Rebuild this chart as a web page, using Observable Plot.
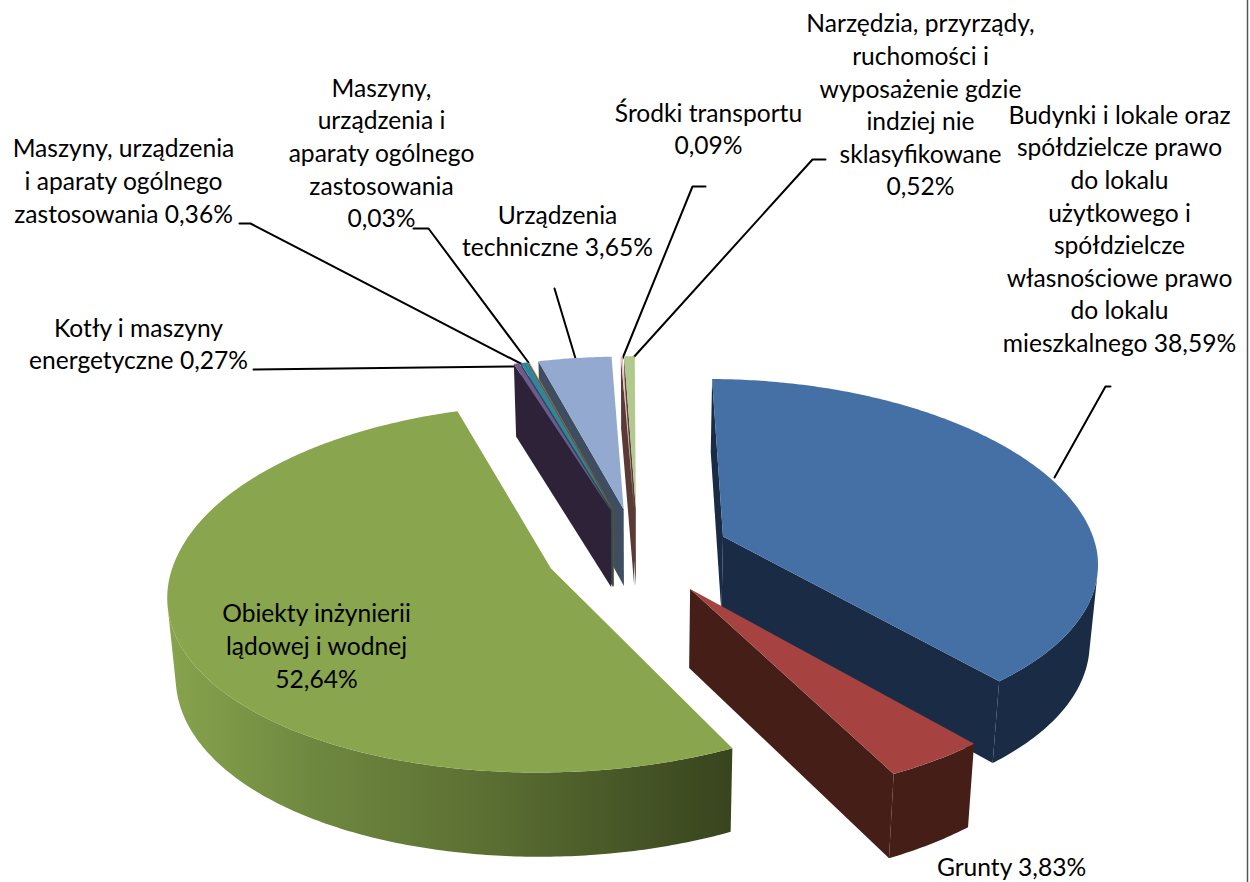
<!DOCTYPE html>
<html><head><meta charset="utf-8">
<script src="https://cdn.jsdelivr.net/npm/d3@7"></script>
<script src="https://cdn.jsdelivr.net/npm/@observablehq/plot@0.6"></script>
<style>html,body{margin:0;padding:0;background:#fff}svg{display:block}</style>
</head><body><div id="chart"></div>
<script>
// ---- data (in clockwise slice order) ----
const categories = ["Budynki","Grunty","Obiekty","Kotły","Maszyny A","Maszyny B","Urządzenia","Środki","Narzędzia"];
const values = [38.59,3.83,52.64,0.27,0.36,0.03,3.65,0.09,0.52];
const labelTexts = [
 "Budynki i lokale oraz\nspółdzielcze prawo\ndo lokalu\nużytkowego i\nspółdzielcze\nwłasnościowe prawo\ndo lokalu\nmieszkalnego ",
 "Grunty ",
 "Obiekty inżynierii\nlądowej i wodnej\n",
 "Kotły i maszyny\nenergetyczne ",
 "Maszyny, urządzenia\ni aparaty ogólnego\nzastosowania ",
 "Maszyny,\nurządzenia i\naparaty ogólnego\nzastosowania\n",
 "Urządzenia\ntechniczne ",
 "Środki transportu\n",
 "Narzędzia, przyrządy,\nruchomości i\nwyposażenie gdzie\nindziej nie\nsklasyfikowane\n"
];
// ---- styles and layout, separate from the data ----
const topColors  = ["#4470a5","#a64340","#89a54e","#71588f","#31849b","#d18a44","#94a9d0","#e6c3c1","#b1c98c"];
const wallColors = ["#1a2c45","#461e18","url(#greenWall)","#2e2239","#1f4f5c","#7a4a20","#3f4d60","#5b3a36","#55403a"];
const labelCentres = [[1119,227],[1011,865],[316,644],[138,342],[123,179],[381,151],[557,229],[708,127],[920,103]];
const leaders = [
 [[1110,386],[1105,386],[1054,477]],
 [[253,369],[513,366]],
 [[239,223],[250,223],[522,364]],
 [[413,228],[428,228],[528,362]],
 [[554,288],[575,358]],
 [[705,186],[692,186],[622,358]],
 [[825,159],[812,159],[632,358]]
];
const greenStops = [[0,"#87a34d"],[0.25,"#6f8840"],[0.55,"#5c7033"],[0.82,"#465526"],[1,"#38441e"]];
// perspective view of the exploded disc
const view = {cx:637, cy:551, R:374, A:178, p:0.11, px:0.13, skew:4, h:78, q:0.6, shrink:0.982, explode:0.247, rotate:0.5};

const rad = d => d*Math.PI/180;
function project(X, Y, low){
  const s = 1/(1+view.p*Y), sx = 1/(1+view.px*Y);
  let x = view.R*X*sx - view.skew*Math.max(Y,0), y = -view.A*Y*s;
  if (low){ x *= view.shrink; y += view.h*Math.pow(s,view.q); }
  return [view.cx+x, view.cy+y];
}
const total = d3.sum(values);
let cum = view.rotate;
const slices = values.map((v,i)=>{
  const a0 = cum, a1 = cum + v/total*360; cum = a1;
  const m = rad((a0+a1)/2);
  const ox = view.explode*Math.sin(m), oy = view.explode*Math.cos(m);
  const n = Math.max(2,Math.ceil((a1-a0)*1.5));
  const arc = d3.range(n+1).map(k=>{
    const a = rad(a0+(a1-a0)*k/n);
    return [ox+Math.sin(a), oy+Math.cos(a)];
  });
  return {i, apex:[ox,oy], arc};
});
const shoelace = q => d3.sum(q,(p,i)=>{const r=q[(i+1)%q.length];return p[0]*r[1]-r[0]*p[1];});

const rows = [];
let faceId = 0;
function addFace(pts, fill){
  const id = faceId++;
  pts.forEach(p=>rows.push({face:id,x:p[0],y:p[1],fill}));
}
const facing = (A,B) => shoelace([project(...A),project(...B),project(...B,true),project(...A,true)]) < 0;
function wallFace(run, fill){
  addFace([...run.map(p=>project(...p)), ...run.slice().reverse().map(p=>project(...p,true))], fill);
}
function drawSlice(s){
  const {apex, arc} = s;
  const last = arc[arc.length-1];
  if (facing(apex,arc[0])) wallFace([apex,arc[0]], wallColors[s.i]);
  if (facing(last,apex)) wallFace([last,apex], wallColors[s.i]);
  // the visible part of the outer wall, as contiguous runs
  let run = [];
  for (let k=0;k<arc.length-1;k++){
    if (facing(arc[k],arc[k+1])) { if(!run.length) run.push(arc[k]); run.push(arc[k+1]); }
    else { if(run.length) wallFace(run, wallColors[s.i]); run = []; }
  }
  if (run.length) wallFace(run, wallColors[s.i]);
  addFace([apex,...arc].map(p=>project(...p)), topColors[s.i]);
}
[8,7,6,5,4,3,2,0,1].forEach(i=>drawSlice(slices[i]));

const leaderRows = leaders.flatMap((l,id)=>l.map(p=>({id,x:p[0],y:p[1]})));
const labels = values.map((v,i)=>({
  text: labelTexts[i]+v.toFixed(2).replace(".",",")+"%",
  x: labelCentres[i][0], y: labelCentres[i][1]
}));

const greenDefs = () => {
  const defs = d3.create("svg:defs");
  const g = defs.append("linearGradient").attr("id","greenWall")
    .attr("gradientUnits","userSpaceOnUse").attr("x1",170).attr("x2",735).attr("y1",0).attr("y2",0);
  greenStops.forEach(([o,c])=>g.append("stop").attr("offset",o).attr("stop-color",c));
  return defs.node();
};

const chart = Plot.plot({
  width:1250, height:882, margin:0,
  x:{domain:[0,1250],range:[0,1250],axis:null},
  y:{domain:[0,882],range:[0,882],axis:null},
  color:{type:"identity"},
  style:{background:"#fff",fontFamily:"Lato"},
  marks:[
    greenDefs,
    Plot.ruleX([1247],{stroke:"#555",strokeWidth:1.5}),
    Plot.line(leaderRows,{x:"x",y:"y",z:"id",stroke:"#000",strokeWidth:2}),
    Plot.line(rows,{x:"x",y:"y",z:"face",fill:"fill",stroke:"none",curve:"linear-closed"}),
    Plot.text(labels,{x:"x",y:"y",text:"text",fontSize:24.6,lineHeight:1.325,textAnchor:"middle",fill:"#000"})
  ]
});
document.getElementById("chart").appendChild(chart);
</script></body></html>
